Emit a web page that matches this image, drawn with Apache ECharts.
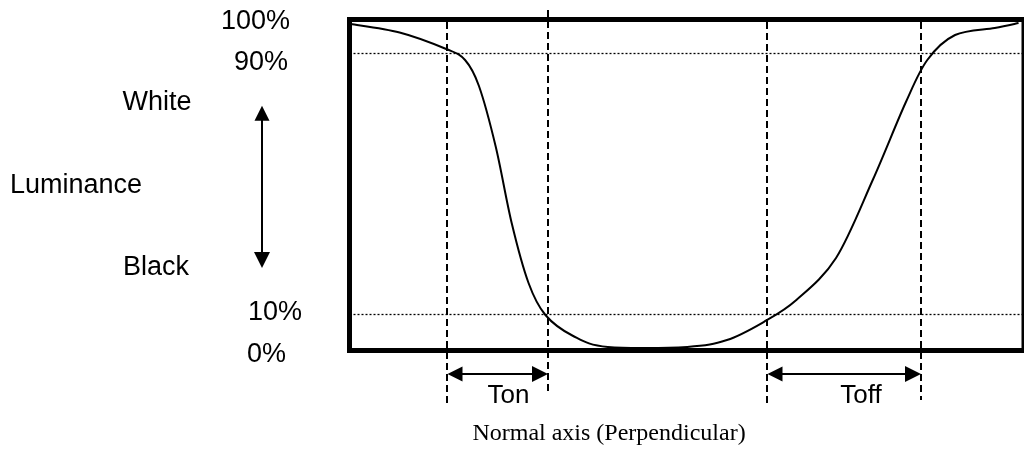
<!DOCTYPE html>
<html>
<head>
<meta charset="utf-8">
<script src="https://cdn.jsdelivr.net/npm/echarts@6/dist/echarts.min.js"></script>
<style>
  html, body { margin: 0; padding: 0; background: #fff; }
  #chart { width: 1024px; height: 452px; }
</style>
</head>
<body>
<div id="chart"></div>
<script>
// ---- data ----
// luminance response curve: time and luminance %
const curveTime = [1.5, 50.5, 97.5, 116.5, 130.5, 147.5, 163.5, 180.5, 197.5, 225.5, 260.5, 340.5, 380.5, 417.5, 450.5, 490.5, 527.5, 560.5, 582.5, 610.5, 650.5, 674.5];
const curveLum  = [98.97, 96.37, 91.31, 87.94, 79.97, 61.27, 37.98, 19.59, 9.78, 3.34, 0, 0, 2.11, 7.63, 14.38, 27.25, 51.16, 74.76, 87.94, 95.60, 97.75, 99.28];
// threshold levels (dotted lines)
const thresholdLevels = [90, 10];
// tick labels on the luminance axis
const tickValues = [100, 90, 10, 0];
const tickLabels = ['100%', '90%', '10%', '0%'];
// timing marks: Ton = start..end, Toff = start..end
const timingNames = ['Ton', 'Toff'];
const timingStart = [97.5, 417.5];
const timingEnd   = [198.5, 571.5];

// ---- build ----
const SANS = '"Liberation Sans", Arial, sans-serif';
const SERIF = '"Liberation Serif", "Times New Roman", serif';
const X_MIN = 0, X_MAX = 680;

const curveData = curveTime.map((t, i) => [t, curveLum[i]]);

// per-tick fine offsets of the labels: [top, right, bottom]
const tickPad = [[2, 12, 0], [18, 14, 0], [0, 0, 4], [16, 16, 0]];
const rich = {};
tickLabels.forEach((l, i) => {
  rich['r' + i] = {
    fontSize: 27, fontFamily: SANS, color: '#000',
    padding: [tickPad[i][0], tickPad[i][1], tickPad[i][2], 0]
  };
});

// annotation geometry (overlay axis: x in time units = px, y in luminance units)
const PX_PER_LUM = 3.2625;
const markTimes = [timingStart[0], timingEnd[0], timingStart[1], timingEnd[1]];
const markTop = [99.6, 103.3, 99.6, 99.6];
const markBottom = [-17.2, -14.3, -17.8, -16.3];
const dashedLines = markTimes.map((t, i) => ({ coords: [[t, markTop[i]], [t, markBottom[i]]] }));
const arrowY = -8.3;
const arrowInset = 8; // half the arrow-head length, so tips touch the marks
const arrowLines = timingNames.map((n, i) => ({
  coords: [[timingStart[i] + arrowInset, arrowY], [timingEnd[i] - arrowInset, arrowY]]
}));
const lumArrow = [{ coords: [[-87.5, 74.1 - arrowInset / PX_PER_LUM], [-87.5, 24.2 + arrowInset / PX_PER_LUM]] }];
const thresholdLines = thresholdLevels.map(v => ({ coords: [[X_MIN, v], [X_MAX, v]] }));

const chart = echarts.init(document.getElementById('chart'), null, { renderer: 'canvas' });

function txt(text, x, y, font, align) {
  return {
    type: 'text', x: x, y: y, silent: true, z: 10,
    style: { text: text, font: font, fill: '#000',
      align: align || 'center', verticalAlign: 'middle',
      textAlign: align || 'center', textVerticalAlign: 'middle' }
  };
}

// smooth curve through the data points (Catmull-Rom), positioned by the axes
function renderCurve(params, api) {
  if (params.dataIndex !== 0) return null;
  const pts = curveData.map(d => api.coord(d));
  let d = 'M' + pts[0][0] + ',' + pts[0][1];
  for (let i = 0; i < pts.length - 1; i++) {
    const p0 = pts[i - 1] || pts[i], p1 = pts[i], p2 = pts[i + 1], p3 = pts[i + 2] || pts[i + 1];
    const c1 = [p1[0] + (p2[0] - p0[0]) / 6, p1[1] + (p2[1] - p0[1]) / 6];
    const c2 = [p2[0] - (p3[0] - p1[0]) / 6, p2[1] - (p3[1] - p1[1]) / 6];
    d += ' C' + c1[0] + ',' + c1[1] + ' ' + c2[0] + ',' + c2[1] + ' ' + p2[0] + ',' + p2[1];
  }
  return {
    type: 'path', shape: { pathData: d }, silent: true,
    style: { fill: 'none', stroke: '#000', lineWidth: 2 }
  };
}

const option = {
  animation: false,
  backgroundColor: '#fff',
  grid: [
    { left: 349.5, top: 19.5, width: 680, height: 331, show: true,
      borderColor: '#000', borderWidth: 5, backgroundColor: 'transparent' },
    { left: 0, top: 0, width: 1024, height: 452, show: false }
  ],
  xAxis: [
    { type: 'value', gridIndex: 0, min: X_MIN, max: X_MAX, show: false },
    { type: 'value', gridIndex: 1, min: -349.5, max: 674.5, show: false }
  ],
  yAxis: [
    { type: 'value', gridIndex: 0, min: -1.1, max: 100.35,
      axisLine: { show: false }, axisTick: { show: false }, splitLine: { show: false },
      axisLabel: {
        show: true, customValues: tickValues, align: 'right', margin: 47.5,
        formatter: function (v) {
          const i = tickValues.indexOf(v);
          return '{r' + i + '|' + tickLabels[i] + '}';
        },
        rich: rich
      }
    },
    { type: 'value', gridIndex: 1, min: -32.21, max: 106.33, show: false }
  ],
  series: [
    {
      type: 'lines', coordinateSystem: 'cartesian2d', xAxisIndex: 0, yAxisIndex: 0,
      silent: true, symbol: 'none', z: 3,
      lineStyle: { color: '#000', width: 1.3, type: [2, 2], opacity: 1 },
      data: thresholdLines
    },
    {
      type: 'custom', coordinateSystem: 'cartesian2d', xAxisIndex: 0, yAxisIndex: 0,
      data: curveData, renderItem: renderCurve, z: 5, silent: true
    },
    {
      type: 'lines', coordinateSystem: 'cartesian2d', xAxisIndex: 1, yAxisIndex: 1,
      silent: true, symbol: 'none', z: 4,
      lineStyle: { color: '#000', width: 2, type: [7, 4], opacity: 1 },
      data: dashedLines
    },
    {
      type: 'lines', coordinateSystem: 'cartesian2d', xAxisIndex: 1, yAxisIndex: 1,
      silent: true, symbol: ['triangle', 'triangle'], symbolSize: [15, 16], z: 4,
      lineStyle: { color: '#000', width: 2, opacity: 1 },
      data: arrowLines.concat(lumArrow)
    }
  ],
  graphic: [
    txt('White', 157, 103, '27px ' + SANS),
    txt('Luminance', 10, 186, '27px ' + SANS, 'left'),
    txt('Black', 156, 268, '27px ' + SANS),
    txt(timingNames[0], 508.5, 396, '26px ' + SANS),
    txt(timingNames[1], 861, 396, '26px ' + SANS),
    txt('Normal axis (Perpendicular)', 609, 434, '24px ' + SERIF)
  ]
};
chart.setOption(option);
</script>
</body>
</html>
